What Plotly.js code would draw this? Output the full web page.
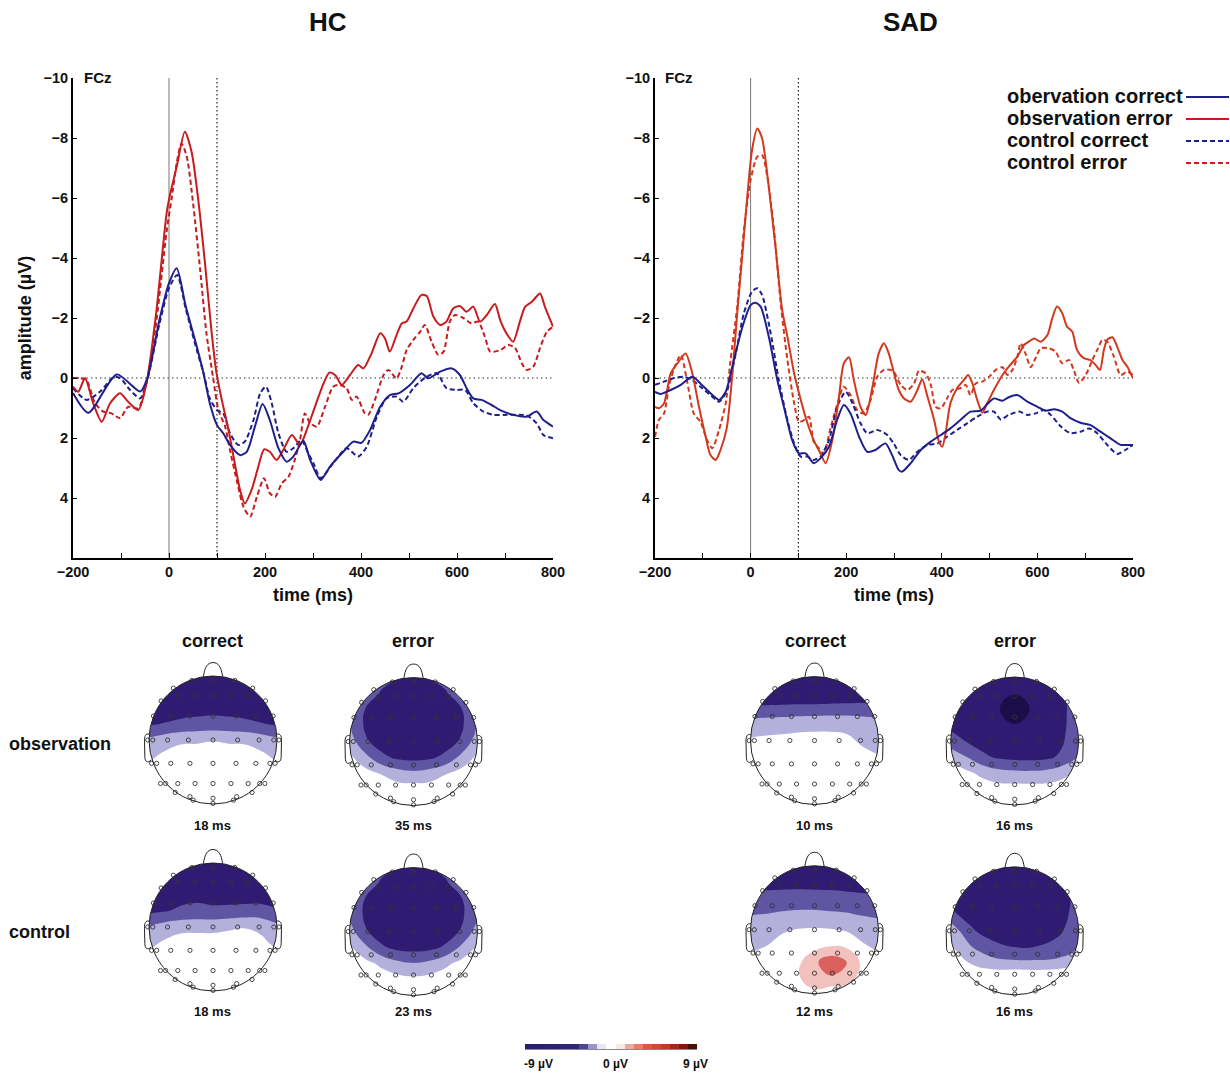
<!DOCTYPE html>
<html><head><meta charset="utf-8">
<script src="https://cdn.plot.ly/plotly-3.0.1.min.js"></script>
<style>html,body{margin:0;padding:0;background:#fff}#chart{width:1230px;height:1074px}</style>
</head><body><div id="chart"></div>
<script>
// ================= DATA =================
const panelTitles = ['HC', 'SAD'];
const legendLabels = ['obervation correct', 'observation error', 'control correct', 'control error'];
const xTickVals = [-200,-100,0,100,200,300,400,500,600,700,800];
const xTickText = ['\u2212200','','0','','200','','400','','600','','800'];
const yTickVals = [-10,-8,-6,-4,-2,0,2,4];

// [time ms, amplitude µV]
const hcObsCorrect = [[-200,0.5],[-168,1.16],[-109,-0.12],[-60,0.45],[-45,0.0],[-20,-1.93],[0,-3.16],[16,-3.66],[35,-2.38],[58,-1.04],[72,-0.15],[85,0.84],[100,1.57],[113,1.84],[127,2.23],[148,2.57],[162,2.46],[179,1.62],[195,0.87],[210,1.4],[228,2.34],[245,2.79],[259,2.62],[280,2.09],[294,2.73],[316,3.4],[335,2.96],[363,2.46],[384,2.12],[401,2.16],[419,1.73],[440,0.96],[460,0.57],[478,0.51],[502,0.23],[526,-0.16],[540,0.01],[565,-0.21],[589,-0.32],[606,-0.1],[620,0.34],[634,0.68],[651,0.73],[672,0.9],[690,1.07],[717,1.23],[745,1.29],[766,1.12],[780,1.4],[800,1.62]];
const hcObsError = [[-200,0.29],[-189,0.46],[-175,0.0],[-158,0.84],[-140,1.46],[-123,0.85],[-102,0.51],[-85,0.79],[-64,1.07],[-47,0.18],[-26,-2.27],[-5,-5.49],[2,-6.1],[16,-7.04],[33,-8.21],[47,-7.54],[61,-5.93],[75,-3.82],[89,-1.49],[99,-0.16],[110,0.73],[124,1.73],[137,2.84],[148,3.73],[158,4.18],[172,3.73],[186,2.96],[198,2.38],[210,2.46],[224,2.73],[238,2.4],[256,1.9],[273,2.23],[287,1.73],[304,0.96],[322,0.18],[334,-0.18],[346,-0.1],[360,0.23],[377,-0.1],[394,-0.43],[405,-0.32],[422,-0.82],[440,-1.49],[450,-1.32],[460,-0.88],[474,-1.43],[485,-1.82],[495,-1.88],[509,-2.32],[526,-2.77],[537,-2.73],[551,-2.04],[565,-1.77],[578,-1.88],[592,-2.32],[606,-2.4],[620,-2.21],[634,-2.38],[648,-1.88],[662,-2.1],[679,-2.47],[690,-1.93],[703,-1.49],[717,-1.21],[731,-1.88],[742,-2.38],[756,-2.54],[773,-2.82],[783,-2.38],[800,-1.71]];
const hcCtrlCorrect = [[-200,0.34],[-172,0.73],[-144,0.46],[-116,-0.02],[-102,0.0],[-81,0.4],[-60,0.68],[-45,0.05],[-20,-1.8],[0,-3.0],[17,-3.43],[35,-2.3],[58,-0.93],[72,-0.16],[85,0.68],[100,1.07],[113,1.18],[127,1.84],[144,2.23],[158,2.12],[176,1.4],[190,0.51],[202,0.29],[214,0.84],[228,1.84],[245,2.46],[259,2.34],[276,2.07],[290,2.51],[301,2.84],[316,3.34],[342,2.84],[370,2.34],[394,2.62],[412,2.29],[433,1.29],[453,0.68],[474,0.62],[488,0.79],[509,0.34],[533,0.0],[558,-0.16],[578,0.34],[599,0.4],[617,0.4],[634,0.84],[655,1.12],[676,1.23],[697,1.23],[745,1.25],[766,1.51],[780,1.9],[800,2.01]];
const hcCtrlError = [[-200,0.0],[-186,0.0],[-172,0.07],[-154,0.84],[-137,1.12],[-120,1.18],[-102,1.34],[-85,0.96],[-64,1.01],[-43,-0.16],[-26,-1.93],[-5,-4.88],[6,-6.04],[16,-7.16],[26,-7.82],[37,-7.38],[51,-5.71],[65,-3.6],[78,-1.49],[92,0.0],[103,1.07],[117,1.62],[127,2.4],[141,3.4],[155,4.29],[169,4.62],[183,3.96],[198,3.34],[210,3.84],[221,3.96],[235,3.51],[249,3.29],[262,2.73],[273,2.07],[283,1.18],[294,1.5],[308,1.62],[325,0.96],[342,0.29],[356,0.23],[370,0.34],[381,0.73],[391,0.62],[408,1.18],[415,1.23],[429,0.73],[447,-0.1],[457,-0.27],[474,0.01],[485,-0.38],[495,-0.93],[509,-1.27],[523,-1.54],[533,-1.77],[547,-1.21],[561,-0.77],[572,-0.88],[585,-1.88],[596,-2.1],[613,-2.0],[630,-1.82],[644,-1.88],[658,-1.38],[669,-0.88],[690,-0.93],[707,-1.1],[721,-1.0],[735,-0.49],[745,-0.27],[759,-0.38],[773,-1.0],[787,-1.54],[800,-1.71]];

const sadObsCorrect = [[-200,0.46],[-188,0.53],[-167,0.4],[-146,0.23],[-122,-0.04],[-105,0.18],[-84,0.51],[-66,0.73],[-52,0.46],[-35,-0.6],[-17,-1.71],[0,-2.43],[10,-2.51],[21,-2.38],[38,-1.38],[56,0.07],[73,1.18],[87,2.07],[101,2.51],[115,2.51],[132,2.84],[146,2.68],[164,2.29],[181,1.4],[195,0.9],[209,1.18],[227,1.96],[244,2.46],[261,2.4],[282,2.18],[296,2.57],[310,3.07],[317,3.12],[335,2.84],[356,2.4],[377,2.12],[398,1.9],[418,1.68],[439,1.4],[460,1.12],[481,1.09],[495,0.87],[509,0.68],[527,0.76],[540,0.64],[558,0.57],[579,0.79],[600,0.96],[617,1.09],[635,1.04],[652,1.12],[669,1.34],[690,1.49],[711,1.57],[732,1.79],[753,2.01],[774,2.23],[788,2.23],[800,2.23]];
const sadObsError = [[-200,0.96],[-192,1.01],[-181,0.84],[-167,-0.16],[-153,-0.49],[-136,-0.82],[-122,-0.16],[-108,0.96],[-94,1.96],[-84,2.57],[-73,2.73],[-63,2.4],[-50,1.68],[-38,-0.16],[-28,-2.16],[-17,-4.16],[-7,-6.04],[3,-7.6],[14,-8.32],[24,-7.99],[38,-6.38],[52,-4.38],[66,-2.27],[77,-1.38],[91,-0.16],[105,0.73],[119,1.51],[132,2.07],[146,2.51],[157,2.84],[171,2.07],[185,0.62],[195,-0.49],[206,-0.69],[216,0.07],[230,0.96],[241,1.23],[255,0.29],[268,-0.82],[279,-1.16],[289,-0.82],[300,-0.16],[310,0.4],[321,0.68],[335,0.79],[349,0.4],[359,0.04],[370,0.62],[384,1.4],[394,2.12],[401,2.29],[408,1.84],[418,0.84],[432,0.34],[446,0.07],[455,-0.1],[464,0.18],[474,0.73],[485,1.16],[495,0.84],[509,0.4],[527,-0.1],[540,-0.38],[558,-0.71],[572,-1.1],[582,-1.21],[593,-1.32],[607,-1.21],[621,-1.43],[631,-1.99],[641,-2.38],[652,-2.16],[662,-1.71],[673,-1.54],[683,-0.93],[697,-0.66],[711,-0.6],[722,-0.43],[731,-0.27],[739,-0.93],[746,-1.27],[757,-1.36],[767,-1.04],[778,-0.6],[788,-0.38],[795,-0.16],[800,0.0]];
const sadCtrlCorrect = [[-200,0.23],[-181,0.12],[-160,0.0],[-139,-0.04],[-122,0.07],[-105,0.29],[-84,0.57],[-66,0.79],[-49,0.4],[-31,-0.82],[-14,-2.16],[3,-2.88],[14,-2.99],[24,-2.77],[42,-1.49],[59,0.07],[77,1.4],[91,2.18],[105,2.62],[119,2.62],[132,2.73],[146,2.62],[164,2.07],[181,0.96],[199,0.46],[213,0.84],[230,1.51],[244,1.84],[265,1.73],[286,1.9],[300,2.2],[314,2.57],[331,2.73],[349,2.46],[370,2.23],[391,2.18],[411,1.96],[432,1.73],[453,1.51],[474,1.29],[495,1.12],[509,1.12],[523,1.38],[540,1.23],[562,1.12],[579,1.23],[596,1.18],[614,1.07],[628,1.23],[649,1.62],[669,1.84],[690,1.79],[708,1.68],[725,1.84],[746,2.23],[767,2.53],[784,2.4],[800,2.23]];
const sadCtrlError = [[-200,1.96],[-192,1.4],[-181,1.18],[-171,0.29],[-160,-0.32],[-146,-0.77],[-132,0.18],[-119,1.18],[-105,1.46],[-91,2.07],[-80,2.34],[-66,1.73],[-52,0.84],[-42,-0.6],[-28,-2.38],[-14,-4.93],[0,-6.6],[14,-7.38],[24,-7.43],[35,-6.71],[49,-4.93],[63,-2.49],[77,-0.6],[91,0.84],[101,1.46],[112,1.4],[122,1.29],[132,2.12],[143,2.34],[153,2.51],[167,1.68],[181,0.9],[195,0.29],[209,0.57],[223,1.07],[237,1.18],[251,0.73],[265,-0.04],[279,-0.27],[293,-0.27],[300,-0.2],[314,0.23],[328,0.4],[342,0.18],[352,-0.24],[366,-0.16],[377,0.23],[387,0.96],[398,1.01],[411,0.68],[422,0.4],[439,0.34],[450,0.23],[460,0.57],[471,0.18],[485,0.12],[499,-0.04],[513,-0.27],[527,-0.36],[537,-0.1],[548,-0.27],[558,-0.71],[565,-1.16],[575,-0.82],[586,-0.36],[596,-0.66],[607,-0.99],[624,-0.99],[638,-0.88],[652,-0.49],[666,-0.6],[676,-0.27],[687,0.16],[701,-0.1],[715,-0.6],[725,-0.93],[736,-1.27],[746,-1.21],[760,-0.71],[774,-0.1],[788,-0.21],[800,-0.1]];

// ---- topographic maps (scalp grid values, µV; rows from front (top) to back) ----
const gridX7 = [-1,-0.667,-0.333,0,0.333,0.667,1];
const gridY7 = [1,0.667,0.333,0,-0.333,-0.667,-1];
const gridX9 = [-1,-0.75,-0.5,-0.25,0,0.25,0.5,0.75,1];
const gridY9 = [1,0.75,0.5,0.25,0,-0.25,-0.5,-0.75,-1];

const hcObsCorMap = [
 [-6.5,-6.5,-6.5,-6.5,-6.5,-6.5,-6.5,-6.5,-6.5],
 [-6.4,-6.3,-6.2,-6.2,-6.2,-6.2,-6.2,-6.3,-6.4],
 [-6.1,-6.0,-5.8,-5.7,-5.6,-5.7,-5.8,-6.0,-6.1],
 [-5.2,-4.9,-4.6,-4.4,-4.3,-4.4,-4.6,-4.9,-5.2],
 [-2.6,-1.9,-1.4,-1.3,-1.1,-1.3,-1.4,-1.9,-2.6],
 [-1.4,-0.6,0,0,0,0,0,-0.6,-1.4],
 [-0.4,0,0,0,0,0,0,0,-0.4],
 [0,0,0,0,0,0,0,0,0],
 [0,0,0,0,0,0,0,0,0]];
const hcObsErrMap = [
 [-1.0,-2.4,-4.0,-4.9,-5.2,-4.9,-4.0,-2.4,-1.0],
 [-0.95,-3.4,-5.3,-5.94,-6.19,-5.94,-5.3,-3.4,-0.95],
 [-2.4,-5.13,-6.25,-6.6,-6.6,-6.6,-6.25,-5.13,-2.4],
 [-2.8,-5.33,-6.54,-6.6,-6.6,-6.6,-6.54,-5.33,-2.8],
 [-1.9,-4.7,-5.92,-6.6,-6.6,-6.6,-5.92,-4.7,-1.9],
 [-0.55,-2.4,-4.5,-5.35,-5.56,-5.35,-4.5,-2.4,-0.55],
 [0,-0.25,-1.1,-2.1,-2.5,-2.1,-1.1,-0.25,0],
 [0,0,0,0,0,0,0,0,0],
 [0,0,0,0,0,0,0,0,0]];
const hcCtrlCorMap = [
 [-6.5,-6.5,-6.5,-6.5,-6.5,-6.5,-6.5,-6.5,-6.5],
 [-6.4,-6.3,-6.3,-6.3,-6.2,-6.2,-6.2,-6.3,-6.4],
 [-6.2,-6.0,-5.6,-5.5,-5.7,-5.8,-5.9,-5.9,-6.0],
 [-5.4,-5.1,-4.7,-4.5,-4.6,-4.5,-4.3,-4.3,-4.8],
 [-2.8,-2.1,-1.7,-1.6,-1.6,-1.3,-1.1,-1.4,-2.5],
 [-1.5,-0.7,0,0,0,0,0,-0.6,-1.4],
 [-0.4,0,0,0,0,0,0,0,-0.4],
 [0,0,0,0,0,0,0,0,0],
 [0,0,0,0,0,0,0,0,0]];
const hcCtrlErrMap = [
 [-1.2,-2.6,-4.2,-5.0,-5.3,-5.0,-4.2,-2.6,-1.2],
 [-1.2,-3.6,-5.4,-6.0,-6.2,-6.0,-5.4,-3.6,-1.2],
 [-2.6,-5.2,-6.3,-6.6,-6.6,-6.6,-6.3,-5.2,-2.6],
 [-3.0,-5.4,-6.5,-6.6,-6.6,-6.6,-6.5,-5.4,-3.0],
 [-2.1,-4.8,-6.0,-6.6,-6.6,-6.6,-6.0,-4.8,-2.1],
 [-0.7,-2.6,-4.7,-5.5,-5.7,-5.5,-4.7,-2.6,-0.7],
 [0,-0.4,-1.4,-2.5,-2.9,-2.5,-1.4,-0.4,0],
 [0,0,0,-0.3,-0.5,-0.3,0,0,0],
 [0,0,0,0,0,0,0,0,0]];
const sadObsCorMap = [
 [-6.8,-6.8,-6.8,-6.8,-6.8,-6.8,-6.8,-6.8,-6.8],
 [-6.9,-6.9,-6.9,-6.9,-6.9,-6.9,-6.9,-6.9,-6.9],
 [-4.6,-4.5,-4.4,-4.3,-4.3,-4.2,-4.1,-4.0,-4.0],
 [-2.0,-1.9,-1.8,-1.6,-1.5,-1.5,-1.6,-2.0,-2.3],
 [-0.8,-0.6,-0.5,-0.4,-0.4,-0.4,-0.6,-1.3,-1.8],
 [0,0,0,0,0,0,-0.1,-0.5,-0.9],
 [0,0,0,0,0,0,0,0,0],
 [0,0,0,0,0,0,0,0,0],
 [0,0,0,0,0,0,0,0,0]];
const sadObsErrMap = [
 [-5.5,-5.8,-6.0,-6.2,-6.4,-6.2,-6.0,-5.6,-5.0],
 [-5.6,-6.0,-6.3,-6.6,-6.9,-6.6,-6.2,-5.4,-4.5],
 [-5.6,-6.1,-6.5,-6.9,-8.4,-6.9,-6.3,-5.3,-4.2],
 [-5.4,-6.0,-6.4,-6.6,-6.9,-6.6,-6.3,-5.3,-4.0],
 [-4.3,-5.1,-5.8,-6.2,-6.4,-6.3,-6.0,-5.2,-3.2],
 [-1.5,-3.0,-4.6,-5.3,-5.6,-5.6,-5.4,-4.6,-2.8],
 [0,-0.6,-1.5,-2.3,-2.5,-2.6,-2.4,-1.6,-0.6],
 [0,0,0,-0.2,-0.2,-0.2,-0.2,0,0],
 [0,0,0,0,0,0,0,0,0]];
const sadCtrlCorMap = [
 [-6.6,-6.6,-6.6,-6.6,-6.6,-6.6,-6.6,-6.6,-6.6],
 [-5.8,-5.9,-5.9,-5.9,-6.0,-6.0,-6.1,-6.2,-6.2],
 [-4.2,-4.2,-4.1,-4.0,-4.0,-4.1,-4.3,-4.5,-4.6],
 [-3.1,-3.0,-2.8,-2.7,-2.7,-2.8,-2.9,-3.2,-3.4],
 [-2.0,-1.6,-1.2,-0.9,-0.8,-0.9,-1.2,-1.7,-2.1],
 [-1.4,-1.0,-0.4,0,0.2,0.9,0.6,-0.8,-1.4],
 [-0.4,-0.5,0,0.6,2.6,4.2,3.2,0.5,-0.4],
 [0,0,0,0.8,2.4,2.8,2.0,0.2,0],
 [0,0,0,0,0.4,-0.5,0,0,0]];
const sadCtrlErrMap = [
 [-5.6,-5.9,-6.2,-6.4,-6.2,-5.6,-4.8],
 [-5.4,-6.0,-6.4,-6.6,-6.4,-5.7,-4.6],
 [-4.9,-5.9,-6.4,-6.6,-6.4,-5.8,-4.4],
 [-1.8,-4.8,-6.0,-6.3,-6.1,-5.4,-3.9],
 [-0.4,-2.4,-3.9,-4.6,-4.6,-4.1,-2.6],
 [0,0,-0.3,-0.2,-0.3,-0.2,0],
 [0,0,0,0,0,0,0]];
const mapLatencies = ['18 ms','35 ms','18 ms','23 ms','10 ms','16 ms','12 ms','16 ms'];
const mapColumns = ['correct','error'];
const mapRows = ['observation','control'];

// electrode positions on the unit head circle
const elecX = [-0.33,0,0.34, -0.62,0.62, -0.55,-0.28,0,0.28,0.55, -0.81,0.82,
  -0.93,-0.66,-0.36,0,0.36,0.67,0.94,
  -1.02,-0.94,-0.71,-0.385,0,0.385,0.72,0.95,1.03,
  -0.96,-0.88,-0.66,-0.36,0,0.36,0.67,0.89,0.97,
  -0.82,-0.74,-0.55,-0.28,0,0.28,0.55,0.73,0.81,
  -0.59,-0.36,-0.31,0,0.32,0.37,0.61, 0];
const elecY = [0.93,0.93,0.93, 0.81,0.81, 0.70,0.70,0.70,0.70,0.70, 0.61,0.61,
  0.375,0.375,0.375,0.375,0.375,0.375,0.375,
  0,0,0,0,0,0,0,0,0,
  -0.365,-0.365,-0.365,-0.365,-0.365,-0.365,-0.365,-0.365,-0.365,
  -0.68,-0.68,-0.68,-0.68,-0.68,-0.68,-0.68,-0.68,-0.68,
  -0.82,-0.885,-0.94,-0.91,-0.94,-0.885,-0.82, -0.99];

// colour-bar levels
const cbLevels = [-9,-8,-7,-6,-5,-4,-3,-2,-1,0,1,2,3,4,5,6,7,8,9];
const cbLabels = ['-9 \u00b5V','0 \u00b5V','9 \u00b5V'];

// ================= STYLE / LAYOUT =================
const W = 1230, H = 1074;
const px = v => v / W, py = v => 1 - v / H;
const FONT = 'Liberation Sans, Arial, Helvetica, sans-serif';
const BLUE = '#1f1f8c', RED_HC = '#c81b1d', RED_SAD = '#d2381f';
const DASH = '5px,3px';

const traces = [];
function erp(pairs, color, dash, ax) {
  traces.push({type:'scatter', mode:'lines', x: pairs.map(p=>p[0]), y: pairs.map(p=>p[1]),
    xaxis: ax[0], yaxis: ax[1], line:{color, width:2, dash, shape:'spline', smoothing:0.7},
    hoverinfo:'skip', showlegend:false});
}
erp(hcCtrlError, RED_HC, DASH, ['x','y']);
erp(hcCtrlCorrect, BLUE, DASH, ['x','y']);
erp(hcObsError, RED_HC, 'solid', ['x','y']);
erp(hcObsCorrect, BLUE, 'solid', ['x','y']);
erp(sadCtrlError, RED_SAD, DASH, ['x2','y2']);
erp(sadCtrlCorrect, BLUE, DASH, ['x2','y2']);
erp(sadObsError, RED_SAD, 'solid', ['x2','y2']);
erp(sadObsCorrect, BLUE, 'solid', ['x2','y2']);

const tickFont = {family: FONT, size: 14.5, color:'#111', weight:'bold'};
const titleFont = {family: FONT, size: 18, color:'#111', weight:'bold'};
function xAx(d0, d1, anchor) {
  return {domain:[px(d0), px(d1)], anchor, range:[-200,800], showline:true, linewidth:2, linecolor:'#000',
    ticks:'inside', ticklen:5, tickwidth:1, tickcolor:'#000', tickvals:xTickVals, ticktext:xTickText,
    tickfont:tickFont, showgrid:false, zeroline:false, fixedrange:true,
    title:{text:'time (ms)', font:titleFont, standoff:9}};
}
function yAx(anchor, withTitle) {
  const a = {domain:[py(558), py(78)], anchor, range:[6,-10], showline:true, linewidth:2, linecolor:'#000',
    ticks:'inside', ticklen:4, tickwidth:1, tickcolor:'#000', tickvals:yTickVals,
    tickfont:tickFont, showgrid:false, zeroline:false, fixedrange:true};
  if (withTitle) a.title = {text:'amplitude (\u00b5V)', font:{family:FONT, size:18, color:'#111', weight:'bold'}, standoff:7};
  return a;
}

const layout = {width:W, height:H, autosize:false, margin:{l:0,r:0,t:0,b:0},
  paper_bgcolor:'#fff', plot_bgcolor:'rgba(0,0,0,0)', showlegend:false,
  font:{family:FONT, color:'#111'},
  xaxis: xAx(73, 553, 'y'), yaxis: yAx('x', true),
  xaxis2: xAx(655, 1133, 'y2'), yaxis2: yAx('x2', false),
  shapes:[], annotations:[]};

// reference lines in ERP panels
[['x','y'],['x2','y2']].forEach(a => {
  layout.shapes.push({type:'line', xref:a[0], yref:a[1], x0:0, x1:0, y0:-10, y1:6, layer:'below', line:{color:'#777', width:1}});
  layout.shapes.push({type:'line', xref:a[0], yref:a[1], x0:100, x1:100, y0:-10, y1:6, layer:'below', line:{color:'#222', width:1.2, dash:'1.5px,2.5px'}});
  layout.shapes.push({type:'line', xref:a[0], yref:a[1], x0:-200, x1:800, y0:0, y1:0, layer:'below', line:{color:'#777', width:1.3, dash:'1.5px,3px'}});
});

function ann(text, x, y, size, xanchor, extra) {
  layout.annotations.push(Object.assign({text, x:px(x), y:py(y), xref:'paper', yref:'paper', showarrow:false,
    xanchor: xanchor || 'center', yanchor:'middle', font:{family:FONT, size, color:'#111', weight:'bold'}}, extra||{}));
}
ann(panelTitles[0], 328, 22, 26);
ann(panelTitles[1], 910, 22, 26);
ann('FCz', 82, 78, 15, 'left');
ann('FCz', 663, 78, 15, 'left');

// custom legend (text then line sample)
const legStyles = [[BLUE,'solid'],[RED_HC,'solid'],[BLUE,DASH],[RED_HC,DASH]];
const legRows = [96, 118, 140, 162];
legendLabels.forEach((lab, i) => {
  ann(lab, 1005, legRows[i], 20, 'left');
  layout.shapes.push({type:'line', xref:'paper', yref:'paper', x0:px(1186), x1:px(1229), y0:py(legRows[i]+1), y1:py(legRows[i]+1),
    line:{color:legStyles[i][0], width:2, dash:legStyles[i][1]}});
});

// ---- topographic maps ----
const mapC = ['#1b0d47','#2f1c72','#5f55a3','#b4b0dc','#ffffff','#f2c0bd','#d9605b'];
const mapScale = [];
mapC.forEach((c, k) => { mapScale.push([Math.max(0,(2*k-1)/12), c]); mapScale.push([Math.min(1,(2*k+1)/12), c]); });

const heads = [
  {z:hcObsCorMap, gx:gridX9, gy:gridY9, cx:213,   cy:740},
  {z:hcObsErrMap, gx:gridX9, gy:gridY9, cx:413.5, cy:741.5},
  {z:hcCtrlCorMap,gx:gridX9, gy:gridY9, cx:213,   cy:927},
  {z:hcCtrlErrMap,gx:gridX9, gy:gridY9, cx:413.5, cy:931.5},
  {z:sadObsCorMap,gx:gridX9, gy:gridY9, cx:814.5, cy:740.5},
  {z:sadObsErrMap,gx:gridX9, gy:gridY9, cx:1014.7,cy:741},
  {z:sadCtrlCorMap,gx:gridX9,gy:gridY9, cx:814.5, cy:929.7},
  {z:sadCtrlErrMap,gx:gridX7,gy:gridY7, cx:1014.7,cy:930.8}];
const R = 64, HALF = 1.3 * R;

// white mask: square with a circular hole (nonzero winding)
const maskX = [], maskY = [];
for (let a = 0; a <= 360; a += 2) { maskX.push(Math.cos(a*Math.PI/180)); maskY.push(Math.sin(a*Math.PI/180)); }
[[1.12,0],[1.12,-1.12],[-1.12,-1.12],[-1.12,1.12],[1.12,1.12],[1.12,0],[1,0]].forEach(p => { maskX.push(p[0]); maskY.push(p[1]); });

heads.forEach((h, i) => {
  const k = i + 3, xa = 'x' + k, ya = 'y' + k;
  layout['xaxis' + k] = {domain:[px(h.cx - HALF), px(h.cx + HALF)], range:[-1.3,1.3], anchor:ya, visible:false, fixedrange:true};
  layout['yaxis' + k] = {domain:[py(h.cy + HALF), py(h.cy - HALF)], range:[-1.3,1.3], anchor:xa, visible:false, fixedrange:true};
  traces.push({type:'contour', x:h.gx, y:h.gy, z:h.z, xaxis:xa, yaxis:ya, autocontour:false,
    contours:{start:-7, end:3, size:2, coloring:'fill', showlines:false},
    line:{width:0, smoothing:1.3}, colorscale:mapScale, showscale:false, hoverinfo:'skip'});
  traces.push({type:'scatter', mode:'lines', x:maskX, y:maskY, xaxis:xa, yaxis:ya, fill:'toself',
    fillcolor:'#ffffff', line:{width:0, color:'#fff'}, hoverinfo:'skip'});
  traces.push({type:'scatter', mode:'markers', x:elecX, y:elecY, xaxis:xa, yaxis:ya, hoverinfo:'skip',
    marker:{symbol:'circle-open', size:4.2, color:'#333', line:{width:0.9, color:'#333'}}});
  const ln = {color:'#222', width:1};
  layout.shapes.push({type:'circle', xref:xa, yref:ya, x0:-1, x1:1, y0:-1, y1:1, line:ln, layer:'above'});
  layout.shapes.push({type:'path', xref:xa, yref:ya, line:ln, layer:'above',
    path:'M -0.15 0.99 C -0.13 1.13 -0.09 1.21 0 1.21 C 0.09 1.21 0.13 1.13 0.15 0.99'});
  layout.shapes.push({type:'path', xref:xa, yref:ya, line:ln, layer:'above',
    path:'M -0.995 0.09 C -1.05 0.11 -1.075 0.06 -1.07 -0.02 L -1.065 -0.26 C -1.065 -0.34 -1.02 -0.37 -0.965 -0.31'});
  layout.shapes.push({type:'path', xref:xa, yref:ya, line:ln, layer:'above',
    path:'M 0.995 0.09 C 1.05 0.11 1.075 0.06 1.07 -0.02 L 1.065 -0.26 C 1.065 -0.34 1.02 -0.37 0.965 -0.31'});
  ann(mapLatencies[i], h.cx, (i % 4 < 2) ? 825 : 1011, 13);
});
ann(mapColumns[0], 213, 641, 18); ann(mapColumns[1], 413, 641, 18);
ann(mapColumns[0], 815, 641, 18); ann(mapColumns[1], 1015, 641, 18);
ann(mapRows[0], 7, 744, 18, 'left'); ann(mapRows[1], 7, 932, 18, 'left');

// ---- colour bar ----
layout.xaxis11 = {domain:[px(525), px(697)], range:[-9.5,9.5], anchor:'y11', visible:false, fixedrange:true};
layout.yaxis11 = {domain:[py(1049), py(1044)], range:[-0.5,0.5], anchor:'x11', visible:false, fixedrange:true};
traces.push({type:'heatmap', x:cbLevels, y:[0], z:[cbLevels], xaxis:'x11', yaxis:'y11', zmin:-9, zmax:9, showscale:false, hoverinfo:'skip',
  colorscale:[[0,'#28206e'],[0.3,'#2e2878'],[0.35,'#5a54a0'],[0.39,'#9c98cc'],[0.43,'#d2d0ec'],[0.46,'#ffffff'],[0.54,'#ffffff'],
    [0.58,'#f4c4c0'],[0.64,'#e8907e'],[0.72,'#d85a40'],[0.84,'#c03a22'],[0.92,'#8c2216'],[1,'#4a1008']]});
layout.shapes.push({type:'line', xref:'paper', yref:'paper', x0:px(525), x1:px(697), y0:py(1049.5), y1:py(1049.5), line:{color:'#888', width:1}});
ann(cbLabels[0], 538, 1064, 12); ann(cbLabels[1], 615, 1064, 12); ann(cbLabels[2], 695, 1064, 12);

Plotly.newPlot('chart', traces, layout, {staticPlot:true, displayModeBar:false});
</script></body></html>
